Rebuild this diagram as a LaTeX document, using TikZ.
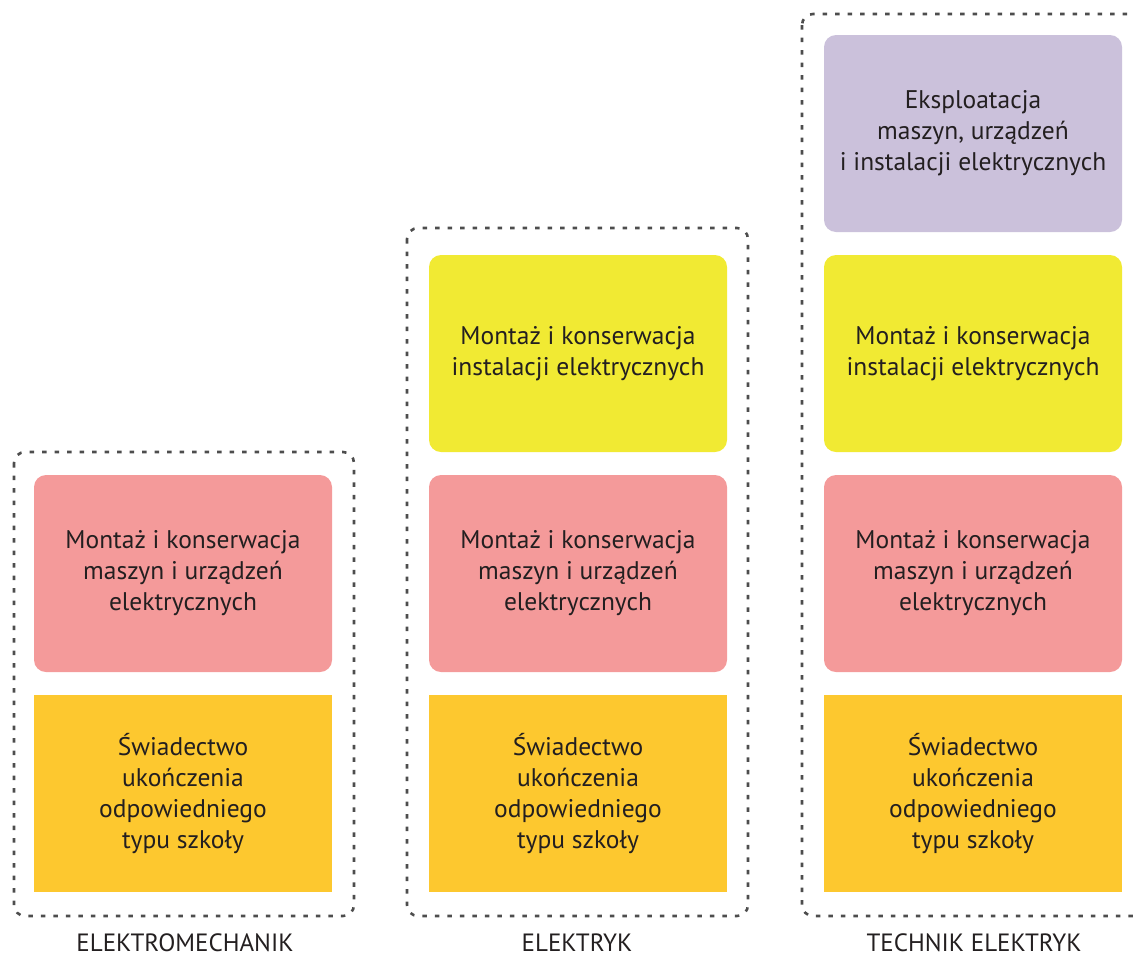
\documentclass[tikz,border=0pt]{standalone}
\usepackage{fontspec}
\setmainfont{PT Sans}
\definecolor{txt}{HTML}{231F20}
\definecolor{pinkc}{HTML}{F49A9A}
\definecolor{goldc}{HTML}{FDC82F}
\definecolor{yelc}{HTML}{F1EA33}
\definecolor{purc}{HTML}{CBC1DB}
\definecolor{dashc}{HTML}{4D4D4D}
\tikzset{
  box/.style={minimum width=298pt, minimum height=197pt, inner sep=0pt, align=center,
    text=txt, font=\fontsize{25.5}{31}\selectfont},
  rbox/.style={box, rounded corners=12pt},
  pinkbox/.style={rbox, fill=pinkc},
  yelbox/.style={rbox, fill=yelc},
  purbox/.style={rbox, fill=purc},
  goldbox/.style={box, fill=goldc},
  frame/.style={draw=dashc, line width=2.6pt, dash pattern=on 4.5pt off 8pt, rounded corners=11pt},
  lab/.style={text=txt, font=\fontsize{25}{28}\selectfont, inner sep=0pt, anchor=base}
}
\begin{document}
\begin{tikzpicture}[x=1pt,y=-1pt]
\useasboundingbox (0,0) rectangle (1134,956);
\clip (0,0) rectangle (1134,956);
% column 1
\draw[frame] (14,452) rectangle (354,916);
\node[pinkbox] (p1) at (183,573.5) {Montaż i konserwacja\\maszyn i urządzeń\\elektrycznych};
\node[goldbox] (g1) at (183,793.5) {Świadectwo\\ukończenia\\odpowiedniego\\typu szkoły};
\node[lab] (l1) at (185,951) {ELEKTROMECHANIK};
% column 2
\draw[frame] (407,228) rectangle (748,916);
\node[yelbox] (y2) at (578,353.5) {Montaż i konserwacja\\instalacji elektrycznych};
\node[pinkbox] (p2) at (578,573.5) {Montaż i konserwacja\\maszyn i urządzeń\\elektrycznych};
\node[goldbox] (g2) at (578,793.5) {Świadectwo\\ukończenia\\odpowiedniego\\typu szkoły};
\node[lab] (l2) at (577,951) {ELEKTRYK};
% column 3
\draw[frame] (802,14) rectangle (1144,916);
\node[purbox] (u3) at (973,133.5) {Eksploatacja\\maszyn, urządzeń\\i instalacji elektrycznych};
\node[yelbox] (y3) at (973,353.5) {Montaż i konserwacja\\instalacji elektrycznych};
\node[pinkbox] (p3) at (973,573.5) {Montaż i konserwacja\\maszyn i urządzeń\\elektrycznych};
\node[goldbox] (g3) at (973,793.5) {Świadectwo\\ukończenia\\odpowiedniego\\typu szkoły};
\node[lab] (l3) at (974,951) {TECHNIK ELEKTRYK};
\end{tikzpicture}
\end{document}
